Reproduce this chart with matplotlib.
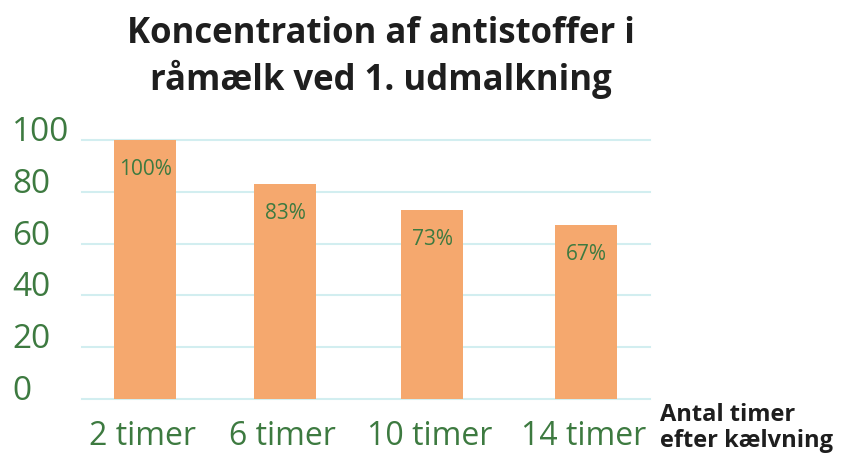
import matplotlib.pyplot as plt
from matplotlib.transforms import blended_transform_factory

categories = ['2 timer', '6 timer', '10 timer', '14 timer']
values = [100, 83, 73, 67]
value_labels = ['100%', '83%', '73%', '67%']
yticks = [0, 20, 40, 60, 80, 100]

green = '#3d7a40'
bar_color = '#f5a86e'
grid_color = '#d2eef0'

fig = plt.figure(figsize=(8.41, 4.56), dpi=100)
ax = fig.add_axes([82 / 841, 1 - 400 / 456, (650 - 82) / 841, (400 - 141) / 456])

# bars are not quite evenly spaced in the original
x = [0, 1, 2.05, 3.15]
ax.bar(x, values, width=0.443, color=bar_color, zorder=2)
ax.set_xlim(-0.45, 3.607)
ax.set_ylim(0, 100)

for v in yticks:
    ax.axhline(v, color=grid_color, lw=1.5, zorder=1, clip_on=False)

for s in ax.spines.values():
    s.set_visible(False)
ax.set_xticks([])
ax.set_yticks([])

# y labels, left aligned at figure edge
tr = blended_transform_factory(fig.transFigure, ax.transData)
for v in yticks:
    ax.text(12 / 841, v, str(v), transform=tr, ha='left', va='baseline',
            fontsize=24, color=green, family='Open Sans')

for xi, v, lab in zip(x, values, value_labels):
    ax.text(xi, v - 11, lab, ha='center', va='center', fontsize=15,
            color=green, family='Open Sans', zorder=3)

trx = blended_transform_factory(ax.transData, fig.transFigure)
for xi, c in zip(x, categories):
    ax.text(xi - 0.02, 1 - 437 / 456, c, transform=trx, ha='center', va='center',
            fontsize=23, color=green, family='Open Sans')

fig.text(660 / 841, 1 - 415 / 456, 'Antal timer', ha='left', va='center',
         fontsize=17, fontweight='bold', color='#1e1e1e', family='Open Sans')
fig.text(660 / 841, 1 - 441 / 456, 'efter kælvning', ha='left', va='center',
         fontsize=17, fontweight='bold', color='#1e1e1e', family='Open Sans')

fig.text(381 / 841, 1 - 34 / 456, 'Koncentration af antistoffer i',
         ha='center', va='center', fontsize=25, fontweight='bold',
         color='#1e1e1e', family='Open Sans')
fig.text(381 / 841, 1 - 79 / 456, 'råmælk ved 1. udmalkning',
         ha='center', va='center', fontsize=25, fontweight='bold',
         color='#1e1e1e', family='Open Sans')

fig.savefig('out.png', dpi=100)
